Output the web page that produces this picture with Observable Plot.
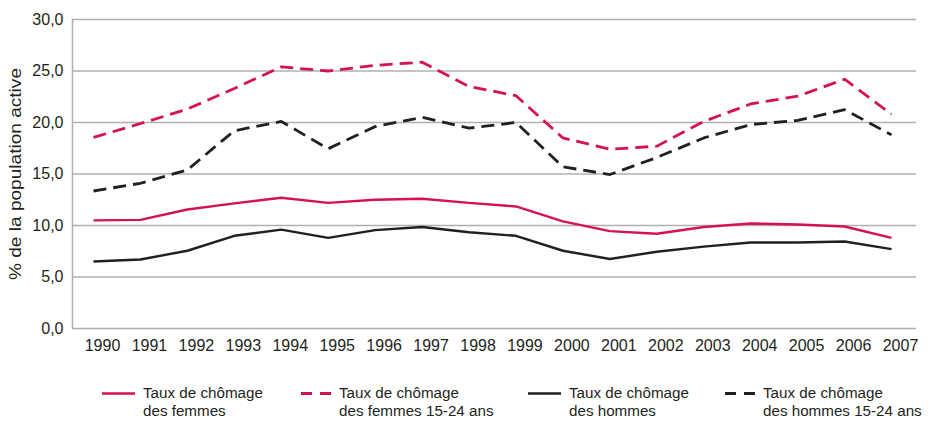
<!DOCTYPE html>
<html>
<head>
<meta charset="utf-8">
<script src="https://cdn.jsdelivr.net/npm/d3@7"></script>
<script src="https://cdn.jsdelivr.net/npm/@observablehq/plot@0.6"></script>
<style>
  body { margin: 0; background: #fff; font-family: "Liberation Sans", Arial, sans-serif; color: #231f20; }
  #wrap { width: 931px; }
  #legend { position: relative; width: 931px; height: 64px; font-size: 15.2px; line-height: 18px; }
  .item { position: absolute; top: 24px; display: flex; align-items: flex-start; }
  .item svg { flex: none; margin-right: 8px; }
</style>
</head>
<body>
<div id="wrap"></div>
<script>
const years = [1990, 1991, 1992, 1993, 1994, 1995, 1996, 1997, 1998, 1999, 2000, 2001, 2002, 2003, 2004, 2005, 2006, 2007];
const femmes = [10.5, 10.55, 11.55, 12.15, 12.7, 12.2, 12.5, 12.6, 12.2, 11.85, 10.4, 9.45, 9.2, 9.85, 10.2, 10.1, 9.9, 8.8];
const femmesJeunes = [18.55, 19.9, 21.3, 23.3, 25.4, 25.0, 25.55, 25.85, 23.5, 22.6, 18.5, 17.4, 17.7, 20.1, 21.8, 22.55, 24.2, 20.8];
const hommes = [6.5, 6.7, 7.55, 9.0, 9.6, 8.8, 9.55, 9.85, 9.35, 9.0, 7.55, 6.75, 7.45, 7.95, 8.35, 8.35, 8.45, 7.7];
const hommesJeunes = [13.35, 14.1, 15.4, 19.2, 20.1, 17.45, 19.6, 20.5, 19.45, 20.0, 15.7, 14.95, 16.6, 18.5, 19.8, 20.2, 21.25, 18.8];
const yTicks = [0, 5, 10, 15, 20, 25, 30];
const yLabel = "% de la population active";
const seriesNames = [
  ["Taux de chômage", "des femmes"],
  ["Taux de chômage", "des femmes 15-24 ans"],
  ["Taux de chômage", "des hommes"],
  ["Taux de chômage", "des hommes 15-24 ans"]
];

const PINK = "#d5124f";
const BLACK = "#231f20";
const GRID = "#b0b0b0";

const series = [
  {values: femmes, color: PINK, dash: null},
  {values: femmesJeunes, color: PINK, dash: "13,7"},
  {values: hommes, color: BLACK, dash: null},
  {values: hommesJeunes, color: BLACK, dash: "13,7"}
];

const fmt = v => v.toFixed(1).replace(".", ",");

const m = [];
m.push(Plot.ruleY(yTicks.filter(d => d > 0), {stroke: GRID, strokeWidth: 1.5}));
m.push(Plot.ruleY([0], {stroke: GRID, strokeWidth: 1.5}));
m.push(Plot.frame({anchor: "left", stroke: GRID, strokeWidth: 1.5}));
series.forEach(s => {
  m.push(Plot.line(years.map((y, i) => ({year: y, v: s.values[i]})), {
    x: "year", y: "v", stroke: s.color, strokeWidth: s.dash ? 2.8 : 2.4,
    strokeDasharray: s.dash, strokeLinejoin: "miter", strokeLinecap: "butt"
  }));
});
m.push(Plot.axisY({ticks: yTicks, tickFormat: fmt, tickSize: 0, tickPadding: 9, fontSize: 16,
  label: yLabel, labelAnchor: "center", labelArrow: "none", labelOffset: 63}));
m.push(Plot.axisX({ticks: years, tickFormat: d => String(d), tickSize: 0, tickPadding: 11, fontSize: 16, dx: 9, label: null}));

const chart = Plot.plot({
  width: 931,
  height: 360,
  marginLeft: 72,
  marginRight: 15,
  marginTop: 19,
  marginBottom: 32,
  insetLeft: 21,
  insetRight: 25,
  style: {fontFamily: "'Liberation Sans', Arial, sans-serif", fontSize: "16px", color: BLACK, background: "#fff"},
  x: {domain: [1990, 2007]},
  y: {domain: [0, 30]},
  marks: m
});

// stretch the rotated y-axis label to its length in the reference
chart.querySelectorAll("text").forEach(t => {
  if (t.textContent === yLabel) {
    t.setAttribute("textLength", "212");
    t.setAttribute("lengthAdjust", "spacingAndGlyphs");
  }
});

const wrap = document.getElementById("wrap");
wrap.appendChild(chart);

// legend
const legend = document.createElement("div");
legend.id = "legend";
const lefts = [102, 301, 528, 725];
series.forEach((s, i) => {
  const item = document.createElement("div");
  item.className = "item";
  item.style.left = lefts[i] + "px";
  const w = s.dash ? 30 : 33;
  item.innerHTML = `<svg width="${w}" height="18"><line x1="0" x2="${w}" y1="9.5" y2="9.5" stroke="${s.color}" stroke-width="${s.dash ? 2.8 : 2.4}" ${s.dash ? 'stroke-dasharray="11,8"' : ''}/></svg><div>${seriesNames[i][0]}<br>${seriesNames[i][1]}</div>`;
  legend.appendChild(item);
});
wrap.appendChild(legend);
</script>
</body>
</html>
